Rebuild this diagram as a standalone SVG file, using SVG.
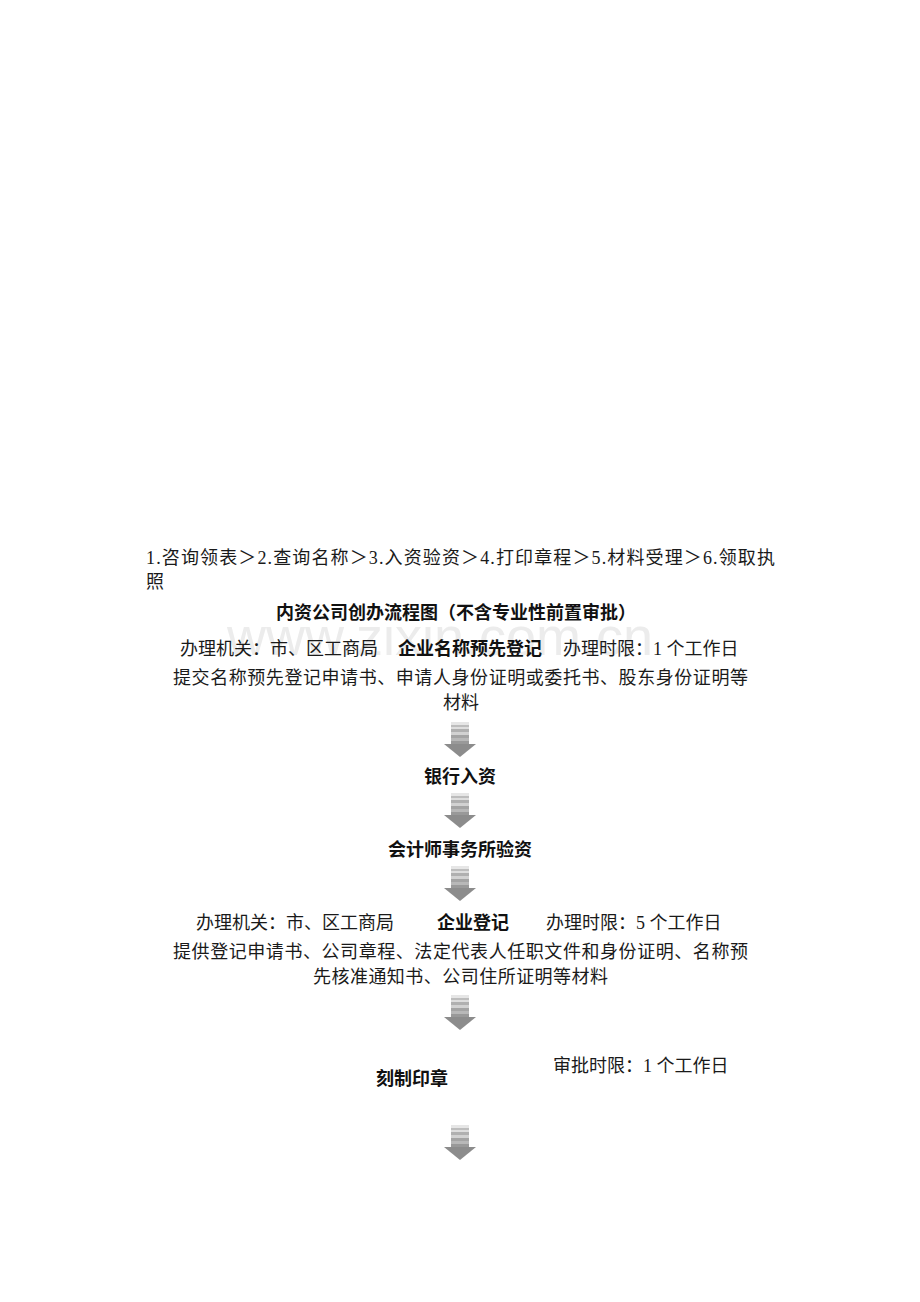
<svg xmlns="http://www.w3.org/2000/svg" width="920" height="1302" viewBox="0 0 920 1302">
<style>
.t{font-family:"Liberation Serif","Noto Sans CJK SC",serif;font-size:18px;fill:#1a1a1a}
.b{font-family:"Noto Sans CJK SC",sans-serif;font-size:18px;font-weight:bold;fill:#111}
.c{text-anchor:middle}
.wm{font-family:"Liberation Sans",Arial,sans-serif;font-size:54px;fill:#ececec}
.head{fill:#8c8c8c}
</style>
<defs>
<linearGradient id="stripe" x1="0" y1="0" x2="0" y2="1">
<stop offset="0" stop-color="#e6e6e6"/><stop offset="0.12" stop-color="#e6e6e6"/>
<stop offset="0.12" stop-color="#bdbdbd"/><stop offset="0.2" stop-color="#bdbdbd"/>
<stop offset="0.2" stop-color="#dedede"/><stop offset="0.32" stop-color="#dedede"/>
<stop offset="0.32" stop-color="#b0b0b0"/><stop offset="0.42" stop-color="#b0b0b0"/>
<stop offset="0.42" stop-color="#d2d2d2"/><stop offset="0.55" stop-color="#d2d2d2"/>
<stop offset="0.55" stop-color="#a4a4a4"/><stop offset="0.7" stop-color="#a4a4a4"/>
<stop offset="0.7" stop-color="#b8b8b8"/><stop offset="0.82" stop-color="#b8b8b8"/>
<stop offset="0.82" stop-color="#999"/><stop offset="1" stop-color="#999"/>
</linearGradient>
<g id="arrow">
<rect x="-9" y="0" width="18" height="23" fill="url(#stripe)"/>
<polygon class="head" points="-16,22 16,22 0,35"/>
</g>
</defs>
<rect width="920" height="1302" fill="#fff"/>
<text class="wm" x="440" y="655" text-anchor="middle">www.zixin.com.cn</text>

<g id="steps">
<text class="t" x="146" y="564" textLength="629" lengthAdjust="spacing">1.咨询领表＞2.查询名称＞3.入资验资＞4.打印章程＞5.材料受理＞6.领取执</text>
<text class="t" x="146" y="588">照</text>
</g>
<g id="title"><text class="b c" x="456" y="619">内资公司创办流程图（不含专业性前置审批）</text></g>
<g id="node-name">
<text class="t" x="180" y="655">办理机关：市、区工商局</text>
<text class="b" x="398" y="655">企业名称预先登记</text>
<text class="t" x="563" y="655">办理时限：1 个工作日</text>
<text class="t" x="173" y="684" textLength="575" lengthAdjust="spacing">提交名称预先登记申请书、申请人身份证明或委托书、股东身份证明等</text>
<text class="t c" x="461" y="709">材料</text>
</g>
<g id="node-bank"><text class="b c" x="460" y="783">银行入资</text></g>
<g id="node-audit"><text class="b c" x="460" y="856">会计师事务所验资</text></g>
<g id="node-register">
<text class="t" x="196" y="929">办理机关：市、区工商局</text>
<text class="b" x="437" y="929">企业登记</text>
<text class="t" x="546" y="929">办理时限：5 个工作日</text>
<text class="t" x="173" y="958" textLength="575" lengthAdjust="spacing">提供登记申请书、公司章程、法定代表人任职文件和身份证明、名称预</text>
<text class="t" x="313" y="983" textLength="295" lengthAdjust="spacing">先核准通知书、公司住所证明等材料</text>
</g>
<g id="node-seal">
<text class="b" x="376" y="1085">刻制印章</text>
<text class="t" x="553" y="1072">审批时限：1 个工作日</text>
</g>
<g id="connectors">
<use href="#arrow" x="460" y="722"/>
<use href="#arrow" x="460" y="793"/>
<use href="#arrow" x="460" y="866"/>
<use href="#arrow" x="460" y="995"/>
<use href="#arrow" x="460" y="1125"/>
</g>
</svg>
